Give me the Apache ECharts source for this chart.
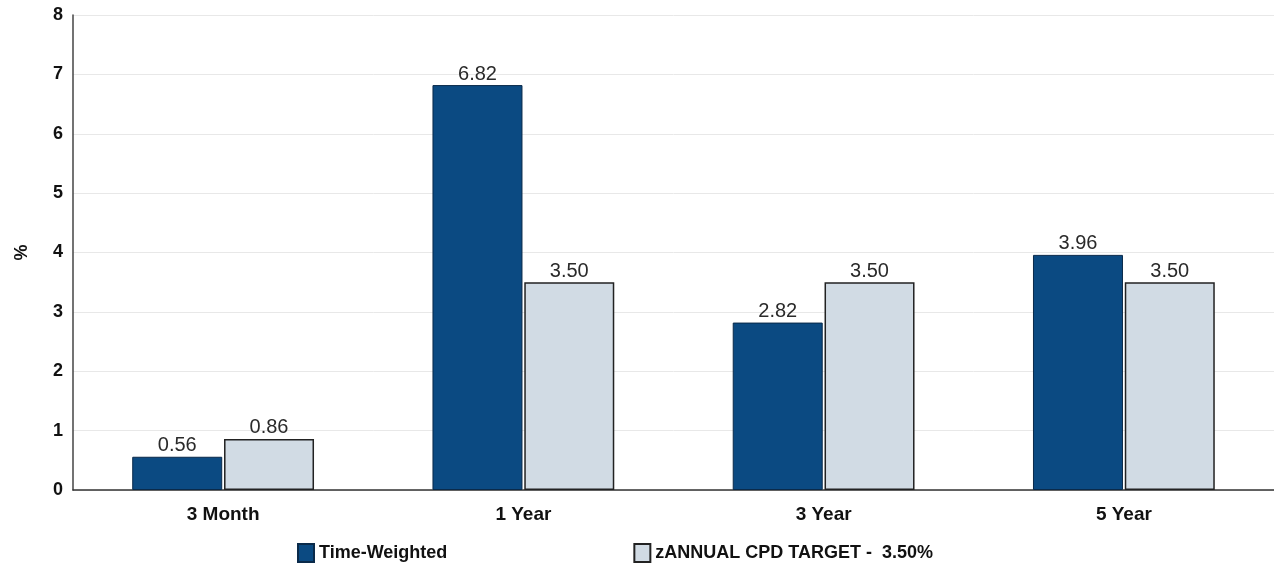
<!DOCTYPE html>
<html>
<head>
<meta charset="utf-8">
<script src="https://cdn.jsdelivr.net/npm/echarts@6/dist/echarts.min.js"></script>
<style>
  html, body { margin: 0; padding: 0; background: #fff; }
  #chart { width: 1274px; height: 569px; }
</style>
</head>
<body>
<div id="chart"></div>
<script>
  const categories = ['3 Month', '1 Year', '3 Year', '5 Year'];
  const timeWeighted = [0.56, 6.82, 2.82, 3.96];
  const cpdTarget = [0.86, 3.50, 3.50, 3.50];
  const seriesNames = ['Time-Weighted', 'zANNUAL CPD TARGET -  3.50%'];

  const chart = echarts.init(document.getElementById('chart'));

  const labelStyle = {
    show: true,
    position: 'top',
    distance: 1,
    color: '#2a2a2a',
    fontFamily: 'Liberation Sans',
    fontSize: 20,
    formatter: p => p.value.toFixed(2),
  };

  chart.setOption({
    animation: false,
    grid: { left: 73, right: 0, top: 15, bottom: 79 },
    legend: {
      left: 292,
      top: 538,
      itemWidth: 16,
      itemHeight: 18,
      itemGap: 186,
      textStyle: { fontFamily: 'Liberation Sans', fontSize: 18, fontWeight: 'bold', color: '#111' },
      data: seriesNames.map(n => ({ name: n, icon: 'rect' })),
    },
    xAxis: {
      type: 'category',
      data: categories,
      axisLine: { lineStyle: { color: '#333', width: 1.5 } },
      axisTick: { show: false },
      axisLabel: { color: '#111', fontFamily: 'Liberation Sans', fontSize: 19, fontWeight: 'bold', margin: 15 },
    },
    yAxis: {
      type: 'value',
      min: 0,
      max: 8,
      interval: 1,
      name: '%',
      nameLocation: 'middle',
      nameGap: 42,
      nameTextStyle: { color: '#111', fontFamily: 'Liberation Sans', fontSize: 18, fontWeight: 'bold' },
      axisLine: { show: true, lineStyle: { color: '#444', width: 1.5 } },
      axisTick: { show: false },
      axisLabel: { color: '#111', fontFamily: 'Liberation Sans', fontSize: 18, fontWeight: 'bold', margin: 10 },
      splitLine: { lineStyle: { color: '#e8e8e8' } },
    },
    series: [
      {
        name: seriesNames[0],
        type: 'bar',
        data: timeWeighted,
        barWidth: 90,
        barGap: '2%',
        itemStyle: { color: '#0b4a82', borderColor: '#0a2a4a', borderWidth: 1 },
        label: labelStyle,
      },
      {
        name: seriesNames[1],
        type: 'bar',
        data: cpdTarget,
        barWidth: 90,
        itemStyle: { color: '#d1dbe4', borderColor: '#222', borderWidth: 1.5 },
        label: labelStyle,
      },
    ],
  });
</script>
</body>
</html>
